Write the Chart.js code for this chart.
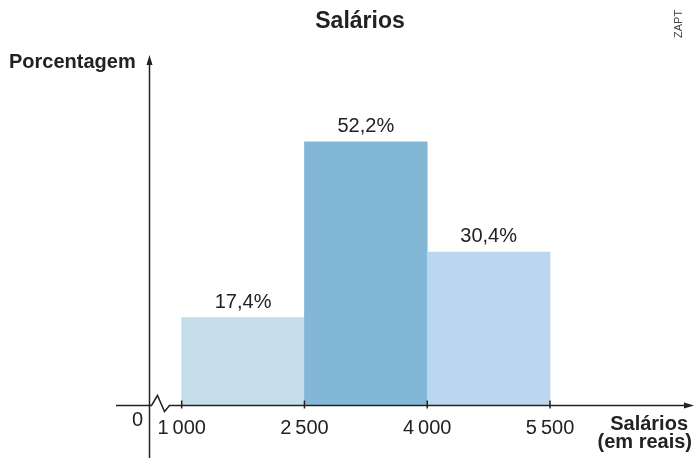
<!DOCTYPE html>
<html>
<head>
<meta charset="utf-8">
<script src="https://cdn.jsdelivr.net/npm/chart.js@4/dist/chart.umd.min.js"></script>
<style>
  body { margin: 0; background: #fff; }
  canvas { display: block; }
</style>
</head>
<body>
<canvas id="histogram" width="699" height="458"></canvas>
<script>
const binEdges = [1000, 2500, 4000, 5500];
const percentages = [17.4, 52.2, 30.4];
const tickLabels = ["1\u2009000", "2\u2009500", "4\u2009000", "5\u2009500"];
const valueLabels = ["17,4%", "52,2%", "30,4%"];
const barColors = ["#c5dcea", "#82b8d6", "#bdd6ef"];

const centers = percentages.map((p, i) => (binEdges[i] + binEdges[i + 1]) / 2);

const ink = "#222";
const font = "'Liberation Sans', Arial, sans-serif";

const axesPlugin = {
  id: "axesPlugin",
  afterDraw(chart) {
    const ctx = chart.ctx;
    const xs = chart.scales.x;
    const area = chart.chartArea;
    const ox = area.left;
    const oy = area.bottom;

    ctx.save();
    ctx.strokeStyle = ink;
    ctx.fillStyle = ink;
    ctx.lineWidth = 1.5;

    // y axis
    ctx.beginPath();
    ctx.moveTo(ox, 458);
    ctx.lineTo(ox, area.top + 8);
    ctx.stroke();
    ctx.beginPath();
    ctx.moveTo(ox, area.top);
    ctx.lineTo(ox - 3, area.top + 10);
    ctx.lineTo(ox + 3, area.top + 10);
    ctx.closePath();
    ctx.fill();

    // x axis with break
    ctx.beginPath();
    ctx.moveTo(116, oy);
    ctx.lineTo(ox + 2, oy);
    ctx.lineTo(ox + 8, oy - 10);
    ctx.lineTo(ox + 15, oy + 6);
    ctx.lineTo(ox + 20, oy);
    ctx.lineTo(area.right - 8, oy);
    ctx.stroke();
    ctx.beginPath();
    ctx.moveTo(area.right, oy);
    ctx.lineTo(area.right - 10, oy - 3);
    ctx.lineTo(area.right - 10, oy + 3);
    ctx.closePath();
    ctx.fill();

    // ticks and tick labels
    ctx.font = "20px " + font;
    ctx.textAlign = "center";
    ctx.textBaseline = "alphabetic";
    binEdges.forEach((v, i) => {
      const px = xs.getPixelForValue(v);
      ctx.beginPath();
      ctx.moveTo(px, oy - 5);
      ctx.lineTo(px, oy + 3);
      ctx.stroke();
      ctx.fillText(tickLabels[i], px, 434);
    });
    ctx.textAlign = "right";
    ctx.fillText("0", 143, 426);

    // value labels above bars
    ctx.textAlign = "center";
    const meta = chart.getDatasetMeta(0);
    meta.data.forEach((bar, i) => {
      ctx.fillText(valueLabels[i], bar.x, bar.y - 10);
    });

    // title and axis titles
    ctx.font = "bold 23px " + font;
    ctx.fillText("Salários", 360, 28);
    ctx.font = "bold 20px " + font;
    ctx.textAlign = "left";
    ctx.fillText("Porcentagem", 9, 68);
    ctx.textAlign = "right";
    ctx.fillText("Salários", 688, 430);
    ctx.fillText("(em reais)", 692, 448);

    // credit
    ctx.font = "11px " + font;
    ctx.fillStyle = "#444";
    ctx.translate(682, 38);
    ctx.rotate(-Math.PI / 2);
    ctx.textAlign = "left";
    ctx.fillText("ZAPT", 0, 0);
    ctx.restore();
  }
};

new Chart(document.getElementById("histogram"), {
  type: "bar",
  data: {
    datasets: [
      {
        data: centers.map((c, i) => ({ x: c, y: percentages[i] })),
        backgroundColor: barColors,
        borderWidth: 0,
        barPercentage: 1,
        categoryPercentage: 1
      }
    ]
  },
  options: {
    responsive: false,
    animation: false,
    layout: {
      padding: { left: 149.5, right: 5, top: 55, bottom: 52.5 }
    },
    scales: {
      x: {
        type: "linear",
        min: 607,
        max: 7259,
        offset: false,
        display: false,
        afterBuildTicks: (scale) => {
          scale.ticks = binEdges.map((v) => ({ value: v }));
        }
      },
      y: { min: 0, max: 69.4, display: false }
    },
    plugins: {
      legend: { display: false },
      tooltip: { enabled: false }
    }
  },
  plugins: [axesPlugin]
});
</script>
</body>
</html>
